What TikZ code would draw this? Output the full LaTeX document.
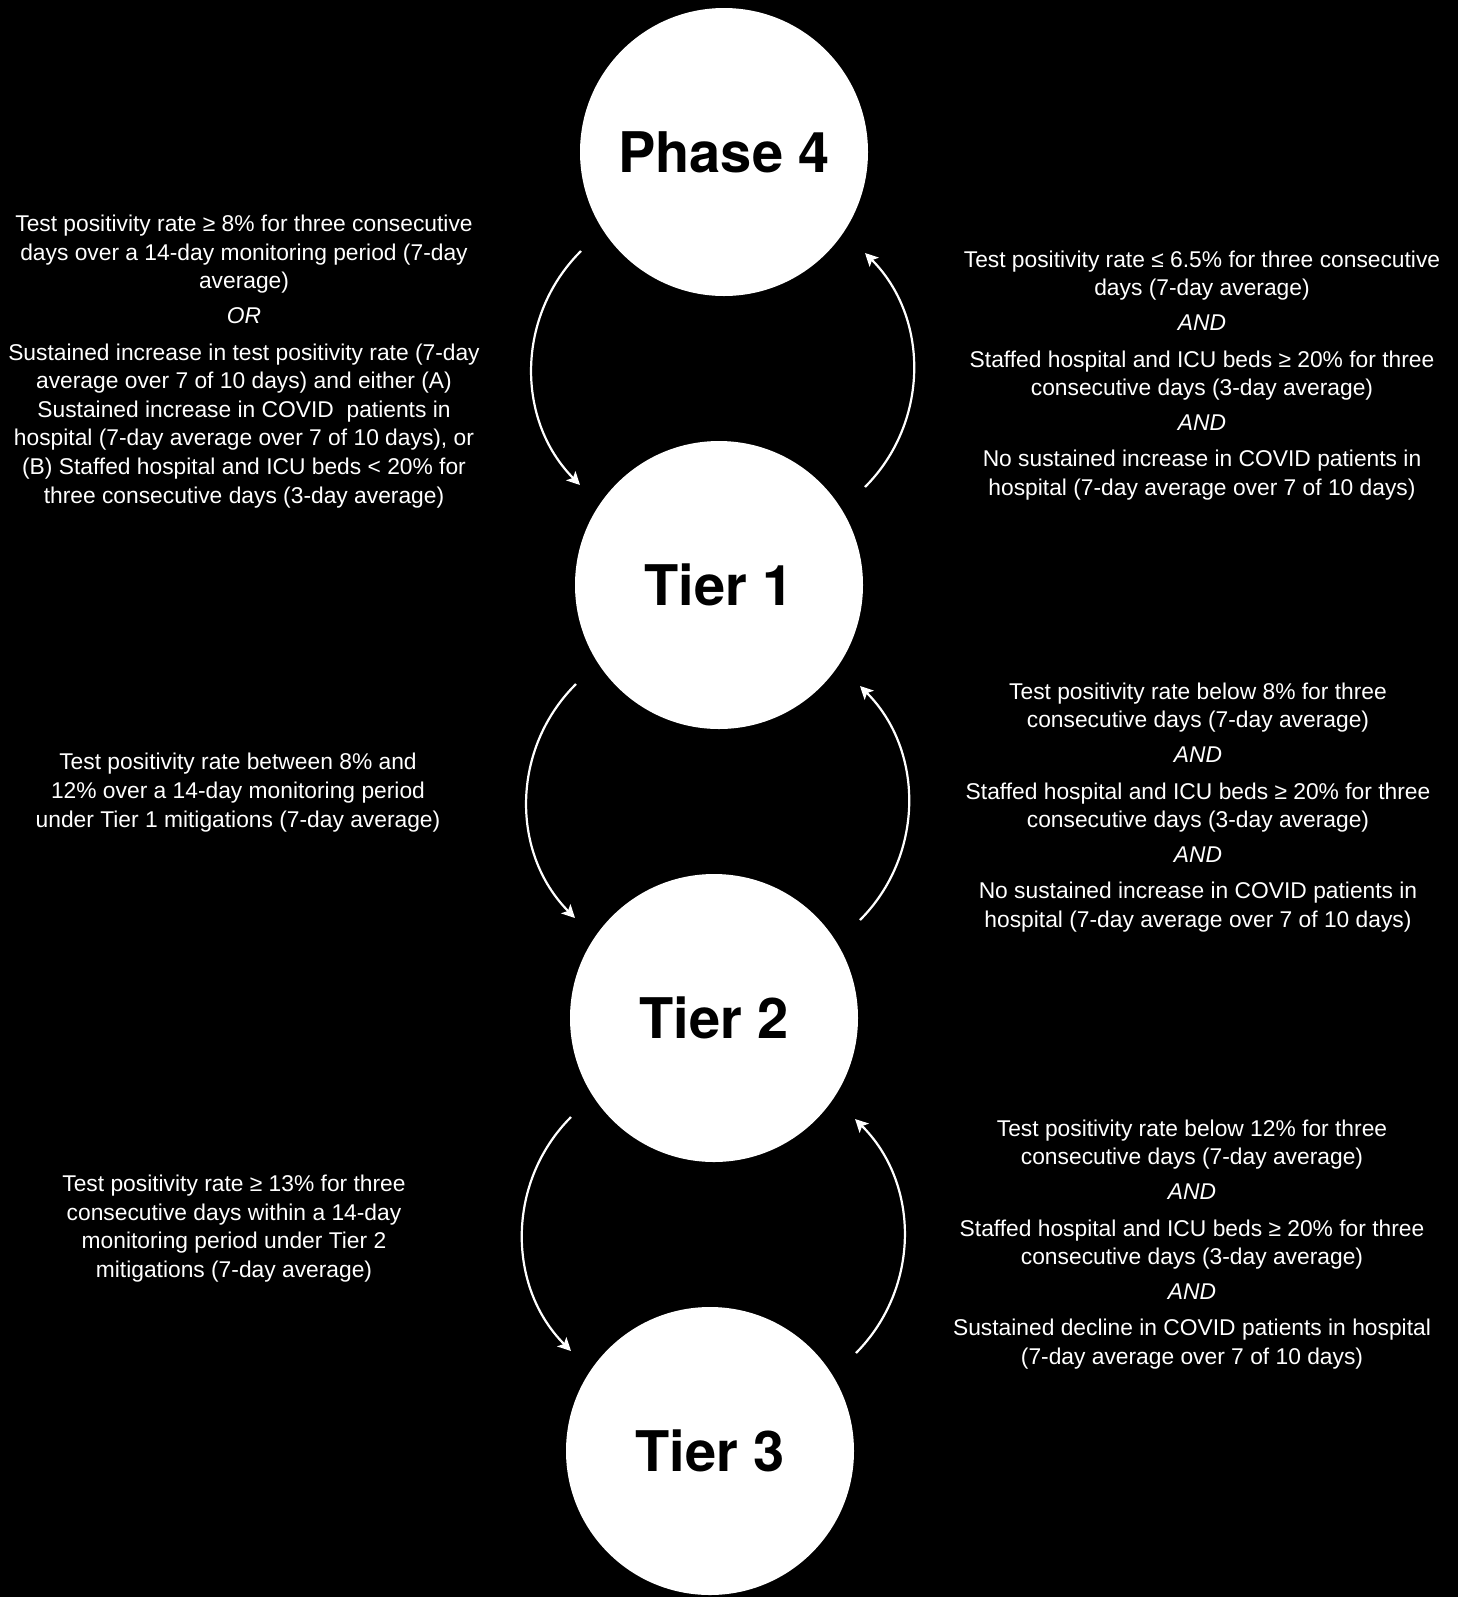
\documentclass[tikz,border=0pt]{standalone}
\usepackage{fontspec}
\setmainfont{Liberation Sans}
\newfontfamily\headfont{TeX Gyre Heros}
\usetikzlibrary{arrows.meta}

\begin{document}
\begin{tikzpicture}
[x=0.5pt, y=-0.5pt,
node distance=216.5pt,
main node/.style={circle, fill=white, inner sep=0pt, minimum size=144pt,
  text=black, font=\headfont\bfseries\fontsize{28}{30}\selectfont},
rule node/.style={align=center, text=white, inner sep=0pt,
  font=\fontsize{11.4}{14.3}\selectfont},
flow/.style={draw=white, line width=1.1pt, bend right=45,
  -{Stealth[length=6.5pt, width=6.5pt, inset=1.5pt]}}]

  \useasboundingbox (0,0) rectangle (1458,1597);
  \fill[black] (0,0) rectangle (1458,1597);

  \node[main node] (p4) at (724,152) {Phase 4};
  \node[main node] (t1) [below of = p4, xshift=-2.5pt] {Tier 1};
  \node[main node] (t2) [below of = t1, xshift=-2.5pt] {Tier 2};
  \node[main node] (t3) [below of = t2, xshift=-2pt] {Tier 3};

  % going up a level (left side)
  \node[rule node] (l1) at (244,361.5) {Test positivity rate ≥ 8\% for three consecutive\\
    days over a 14-day monitoring period (7-day\\
    average)\\[3pt]
    \textit{OR}\\[4pt]
    Sustained increase in test positivity rate (7-day\\
    average over 7 of 10 days) and either (A)\\
    Sustained increase in COVID\ \ patients in\\
    hospital (7-day average over 7 of 10 days), or\\
    (B) Staffed hospital and ICU beds < 20\% for\\
    three consecutive days (3-day average)};
  \node[rule node] (l2) at (238,792.5) {Test positivity rate between 8\% and\\
    12\% over a 14-day monitoring period\\
    under Tier 1 mitigations (7-day average)};
  \node[rule node] (l3) at (234,1228.5) {Test positivity rate ≥ 13\% for three\\
    consecutive days within a 14-day\\
    monitoring period under Tier 2\\
    mitigations (7-day average)};

  % going back down (right side)
  \node[rule node] (r1) at (1202,375.5) {Test positivity rate ≤ 6.5\% for three consecutive\\
    days (7-day average)\\[3pt]
    \textit{AND}\\[4pt]
    Staffed hospital and ICU beds ≥ 20\% for three\\
    consecutive days (3-day average)\\[3pt]
    \textit{AND}\\[4pt]
    No sustained increase in COVID patients in\\
    hospital (7-day average over 7 of 10 days)};
  \node[rule node] (r2) at (1198,807.5) {Test positivity rate below 8\% for three\\
    consecutive days (7-day average)\\[3pt]
    \textit{AND}\\[4pt]
    Staffed hospital and ICU beds ≥ 20\% for three\\
    consecutive days (3-day average)\\[3pt]
    \textit{AND}\\[4pt]
    No sustained increase in COVID patients in\\
    hospital (7-day average over 7 of 10 days)};
  \node[rule node] (r3) at (1192,1244.5) {Test positivity rate below 12\% for three\\
    consecutive days (7-day average)\\[3pt]
    \textit{AND}\\[4pt]
    Staffed hospital and ICU beds ≥ 20\% for three\\
    consecutive days (3-day average)\\[3pt]
    \textit{AND}\\[4pt]
    Sustained decline in COVID patients in hospital\\
    (7-day average over 7 of 10 days)};

  \foreach \a/\b in {p4/t1, t1/t2, t2/t3} {
    \path
      ([shift={(-143,99)}]\a.center) edge[flow] ([shift={(-139,-100)}]\b.center)
      ([shift={(146,-98)}]\b.center) edge[flow] ([shift={(141,101)}]\a.center);
  }

\end{tikzpicture}
\end{document}
